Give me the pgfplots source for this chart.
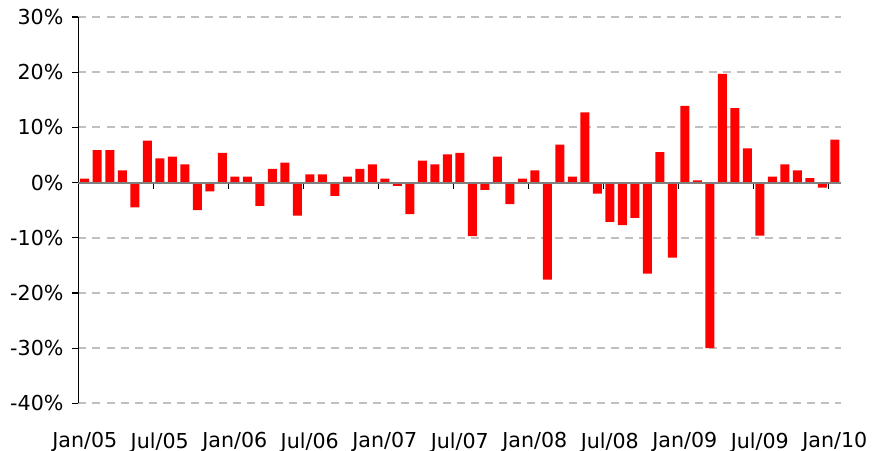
\documentclass[border=0pt]{standalone}
\usepackage{pgfplots}
\pgfplotsset{compat=1.18}
\usepackage{pgfplotstable}
\usepackage{fontspec}
\setmainfont{DejaVu Sans}
\definecolor{gridgray}{HTML}{C0C0C0}
\definecolor{zerogray}{HTML}{808080}

\pgfplotstableread{
x y
0 0.7
1 5.9
2 5.9
3 2.2
4 -4.5
5 7.6
6 4.4
7 4.7
8 3.3
9 -5.0
10 -1.6
11 5.4
12 1.1
13 1.1
14 -4.2
15 2.5
16 3.6
17 -6.0
18 1.5
19 1.5
20 -2.4
21 1.1
22 2.5
23 3.3
24 0.7
25 -0.6
26 -5.7
27 4.0
28 3.3
29 5.1
30 5.4
31 -9.7
32 -1.3
33 4.7
34 -3.9
35 0.7
36 2.2
37 -17.6
38 6.9
39 1.1
40 12.7
41 -2.0
42 -7.1
43 -7.7
44 -6.4
45 -16.5
46 5.5
47 -13.6
48 13.9
49 0.4
50 -30.0
51 19.7
52 13.5
53 6.2
54 -9.6
55 1.1
56 3.3
57 2.2
58 0.8
59 -0.9
60 7.8
}\returns

\begin{document}
\begin{tikzpicture}
\begin{axis}[name=ax, scale only axis, width=381.25pt, height=193.2pt,
  xmin=-0.5, xmax=60.5, ymin=-40, ymax=30,
  axis x line*=bottom, axis y line*=left,
  x axis line style={draw=none},
  y axis line style={black, line width=0.6pt, -},
  xtick={0,6,...,60},
  xticklabels={Jan/05,Jul/05,Jan/06,Jul/06,Jan/07,Jul/07,Jan/08,Jul/08,Jan/09,Jul/09,Jan/10},
  major x tick style={draw=none},
  ytick={-40,-30,...,30},
  yticklabels={-40\%,-30\%,-20\%,-10\%,0\%,10\%,20\%,30\%},
  ymajorgrids, grid style={gridgray, line width=1pt, dash pattern=on 4pt off 3pt},
  tick align=outside, major tick length=3pt,
  major y tick style={black, line width=0.6pt},
  tick label style={font=\fontsize{10.3}{12}\selectfont},
  yticklabel style={xshift=-1pt},
  xticklabel style={yshift=-8pt},
  ]
  \addplot[ybar, bar width=0.72, fill=red, draw=none] table[x=x,y=y]{\returns};
\end{axis}
\begin{axis}[scale only axis, width=381.25pt, height=193.2pt,
  xmin=-0.5, xmax=60.5, ymin=-40, ymax=30,
  axis x line=middle, axis y line=none,
  x axis line style={zerogray, line width=1pt, -},
  xtick={5.5,11.5,...,59.5}, xticklabels={},
  tick align=outside, major tick length=3pt,
  major x tick style={black, line width=0.6pt}]
\end{axis}
\pgfresetboundingbox
\path[use as bounding box] ([xshift=-39.25pt,yshift=-23.35pt]ax.south west) rectangle ([xshift=18pt,yshift=8.5pt]ax.north east);
\end{tikzpicture}
\end{document}
